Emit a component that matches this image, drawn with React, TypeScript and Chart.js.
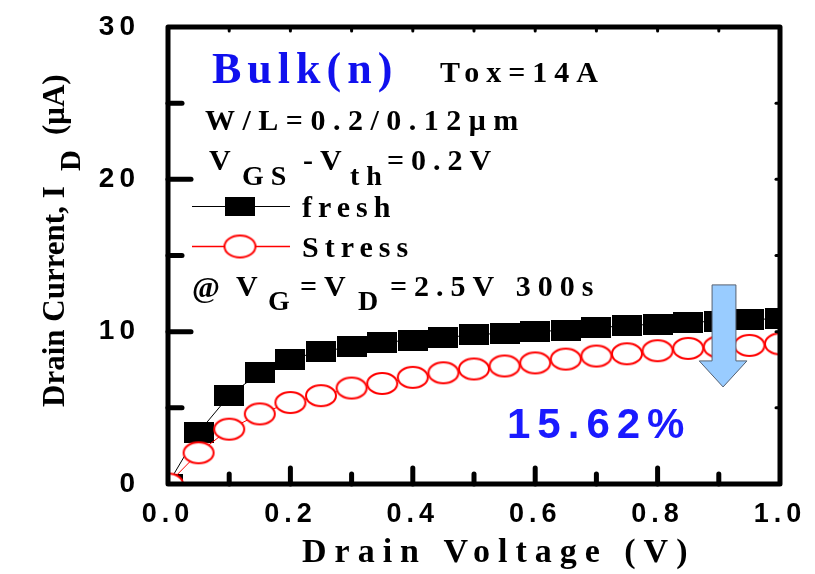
import React, { useEffect, useRef } from 'react';
import { Chart, registerables } from 'chart.js';

Chart.register(...registerables);

// ---- data ----
const voltages = [0, 0.05, 0.1, 0.15, 0.2, 0.25, 0.3, 0.35, 0.4, 0.45, 0.5, 0.55, 0.6, 0.65, 0.7, 0.75, 0.8, 0.85, 0.9, 0.95, 1.0];
const freshCurrent = [0, 3.4, 5.8, 7.3, 8.2, 8.7, 9.0, 9.3, 9.45, 9.6, 9.8, 9.9, 10.0, 10.1, 10.25, 10.4, 10.5, 10.6, 10.7, 10.8, 10.85];
const stressCurrent = [0, 2.05, 3.6, 4.6, 5.35, 5.8, 6.3, 6.6, 7.0, 7.3, 7.55, 7.75, 7.95, 8.2, 8.4, 8.55, 8.75, 8.9, 9.0, 9.1, 9.2];
const seriesNames = ['fresh', 'Stress'];
const xTickStep = 0.2;
const yTickStep = 10;
const xMinorTicks = [0.1, 0.2, 0.3, 0.4, 0.5, 0.6, 0.7, 0.8, 0.9];
const yMinorTicks = [5, 10, 15, 20, 25];
const degradationLabel = '15.62%';

const SERIF = '"Liberation Serif", "Times New Roman", serif';
const SANS = '"Liberation Sans", Arial, sans-serif';

function makeRect(w: number, h: number, color: string) {
  const c = document.createElement('canvas');
  c.width = w; c.height = h;
  const g = c.getContext('2d')!;
  g.fillStyle = color;
  g.fillRect(0, 0, w, h);
  return c;
}

function makeEllipse(w: number, h: number, color: string, lw: number) {
  const c = document.createElement('canvas');
  c.width = w; c.height = h;
  const g = c.getContext('2d')!;
  g.beginPath();
  g.ellipse(w / 2, h / 2, w / 2 - lw, h / 2 - lw, 0, 0, Math.PI * 2);
  g.fillStyle = '#ffffff';
  g.fill();
  g.lineWidth = lw;
  g.strokeStyle = color;
  g.stroke();
  return c;
}

function txt(ctx: CanvasRenderingContext2D, s: string, x: number, y: number, font: string, color: string, spacing: number) {
  ctx.save();
  ctx.font = font;
  ctx.fillStyle = color;
  (ctx as any).letterSpacing = spacing + 'px';
  ctx.textAlign = 'left';
  ctx.textBaseline = 'alphabetic';
  ctx.fillText(s, x, y);
  ctx.restore();
}

export default function App() {
  const ref = useRef<HTMLCanvasElement>(null);

  useEffect(() => {
    if (!ref.current) return;
    const squareImg = makeRect(30, 21, '#000000');
    const circleImg = makeEllipse(34, 25, '#ff0000', 2);
    const legendSquare = makeRect(30, 19, '#000000');
    const legendCircle = makeEllipse(35, 26, '#ff0000', 2);

    const spacingPlugin = {
      id: 'spacing',
      beforeDraw(chart: any) {
        chart.ctx.letterSpacing = '5px';
      },
      afterDraw(chart: any) {
        chart.ctx.letterSpacing = '0px';
      },
    };

    const framePlugin = {
      id: 'frame',
      afterDatasetsDraw(chart: any) {
        const ctx: CanvasRenderingContext2D = chart.ctx;
        const { left, right, top, bottom } = chart.chartArea;
        const xs = chart.scales.x;
        const ys = chart.scales.y;
        ctx.save();
        (ctx as any).letterSpacing = '0px';
        // arrow
        const ax = (v: number) => xs.getPixelForValue(v);
        const ay = (v: number) => ys.getPixelForValue(v);
        ctx.beginPath();
        ctx.moveTo(ax(0.889), ay(13.07));
        ctx.lineTo(ax(0.928), ay(13.07));
        ctx.lineTo(ax(0.928), ay(8.08));
        ctx.lineTo(ax(0.946), ay(8.08));
        ctx.lineTo(ax(0.907), ay(6.37));
        ctx.lineTo(ax(0.868), ay(8.08));
        ctx.lineTo(ax(0.889), ay(8.08));
        ctx.closePath();
        ctx.fillStyle = '#99ccff';
        ctx.fill();
        ctx.lineWidth = 1;
        ctx.strokeStyle = '#556070';
        ctx.stroke();

        // ticks
        ctx.strokeStyle = '#000';
        ctx.lineCap = 'round';
        ctx.lineWidth = 5;
        yMinorTicks.forEach((v) => {
          const y = ys.getPixelForValue(v);
          const major = v % yTickStep === 0;
          ctx.beginPath();
          ctx.moveTo(left, y);
          ctx.lineTo(left + (major ? 23 : 14), y);
          ctx.stroke();
        });
        xMinorTicks.forEach((v) => {
          const x = xs.getPixelForValue(v);
          const major = Math.round(v * 10) % 2 === 0;
          ctx.beginPath();
          ctx.moveTo(x, bottom);
          ctx.lineTo(x, bottom - (major ? 16 : 10));
          ctx.stroke();
        });
        ctx.lineWidth = 3;
        yMinorTicks.forEach((v) => {
          const y = ys.getPixelForValue(v);
          ctx.beginPath();
          ctx.moveTo(right, y);
          ctx.lineTo(right - 4, y);
          ctx.stroke();
        });
        xMinorTicks.forEach((v) => {
          const x = xs.getPixelForValue(v);
          ctx.beginPath();
          ctx.moveTo(x, top);
          ctx.lineTo(x, top + 4);
          ctx.stroke();
        });
        // frame
        ctx.lineCap = 'butt';
        ctx.lineJoin = 'round';
        ctx.lineWidth = 5;
        ctx.strokeRect(left, top, right - left, bottom - top);
        ctx.restore();
      },
      afterDraw(chart: any) {
        const ctx: CanvasRenderingContext2D = chart.ctx;
        const B = (s: number) => `bold ${s}px ${SERIF}`;
        // annotations
        txt(ctx, 'Bulk(n)', 212, 83, B(44), '#1010ee', 6);
        txt(ctx, 'Tox=14A', 440, 82, B(30), '#000', 7);
        txt(ctx, 'W/L=0.2/0.12\u03bcm', 205, 130, B(30), '#000', 7.5);
        txt(ctx, 'V', 209, 170, B(30), '#000', 7);
        txt(ctx, 'GS', 242, 185, B(28), '#000', 7);
        txt(ctx, '-V', 303, 170, B(30), '#000', 7);
        txt(ctx, 'th', 350, 185, B(28), '#000', 7);
        txt(ctx, '=0.2V', 387, 170, B(30), '#000', 7);
        // legend
        ctx.save();
        ctx.lineWidth = 1;
        ctx.strokeStyle = '#000';
        ctx.beginPath();
        ctx.moveTo(192, 206.5);
        ctx.lineTo(290, 206.5);
        ctx.stroke();
        ctx.drawImage(legendSquare, 240 - 15, 206.5 - 9.5);
        ctx.strokeStyle = '#ff0000';
        ctx.lineWidth = 1.5;
        ctx.beginPath();
        ctx.moveTo(192, 246.5);
        ctx.lineTo(290, 246.5);
        ctx.stroke();
        ctx.drawImage(legendCircle, 240 - 17.5, 246.5 - 13);
        ctx.restore();
        txt(ctx, seriesNames[0], 302, 217, B(30), '#000', 6);
        txt(ctx, seriesNames[1], 302, 257, B(30), '#000', 6);
        // stress condition
        txt(ctx, '@', 192, 297, B(30), '#000', 7);
        txt(ctx, 'V', 236, 296, B(30), '#000', 7);
        txt(ctx, 'G', 268, 310, B(28), '#000', 7);
        txt(ctx, '=V', 300, 296, B(30), '#000', 7);
        txt(ctx, 'D', 358, 310, B(28), '#000', 7);
        txt(ctx, '=2.5V 300s', 390, 296, B(30), '#000', 7);
        // percentage
        txt(ctx, degradationLabel, 507, 438, `bold 42px ${SANS}`, '#1a1aff', 7);
        // x title
        ctx.save();
        ctx.font = B(34);
        (ctx as any).letterSpacing = '8px';
        ctx.fillStyle = '#000';
        ctx.textAlign = 'left';
        ctx.textBaseline = 'alphabetic';
        ctx.fillText('Drain Voltage (V)', 302, 562);
        ctx.restore();
        // y title (rotated)
        ctx.save();
        ctx.fillStyle = '#000';
        ctx.textAlign = 'left';
        ctx.textBaseline = 'alphabetic';
        (ctx as any).letterSpacing = '0px';
        ctx.translate(64, 407);
        ctx.rotate(-Math.PI / 2);
        ctx.font = B(31);
        ctx.fillText('Drain Current, I', 0, 0);
        ctx.font = B(29);
        ctx.fillText('D', 236, 16);
        ctx.font = B(31);
        ctx.fillText('(\u03bcA)', 272, 0);
        ctx.restore();
      },
    };

    const chart = new Chart(ref.current, {
      type: 'line',
      data: {
        labels: voltages,
        datasets: [
          {
            label: seriesNames[0],
            data: voltages.map((v, i) => ({ x: v, y: freshCurrent[i] })),
            borderColor: '#000000',
            backgroundColor: '#000000',
            borderWidth: 1,
            pointStyle: squareImg as any,
            pointRadius: 15,
            order: 2,
          },
          {
            label: seriesNames[1],
            data: voltages.map((v, i) => ({ x: v, y: stressCurrent[i] })),
            borderColor: '#ff0000',
            backgroundColor: '#ffffff',
            borderWidth: 1,
            pointStyle: circleImg as any,
            pointRadius: 15,
            order: 1,
          },
        ],
      },
      options: {
        animation: false,
        responsive: false,
        devicePixelRatio: 1,
        layout: { padding: { left: 0, right: 35, top: 27, bottom: 0 } },
        plugins: {
          legend: { display: false },
          tooltip: { enabled: false },
        },
        scales: {
          x: {
            type: 'linear',
            min: 0,
            max: 1,
            grid: { display: false, drawTicks: false },
            border: { display: false },
            ticks: {
              stepSize: xTickStep,
              autoSkip: false,
              maxRotation: 0,
              padding: 14,
              color: '#000',
              font: { family: SANS, size: 27, weight: 'bold' },
              callback: (v: any) => Number(v).toFixed(1),
            },
            afterFit: (s: any) => {
              s.height = 90;
              s.paddingLeft = 0; s.paddingRight = 0; s.paddingTop = 0; s.paddingBottom = 0;
            },
          },
          y: {
            min: 0,
            max: 30,
            grid: { display: false, drawTicks: false },
            border: { display: false },
            ticks: {
              stepSize: yTickStep,
              autoSkip: false,
              padding: 28,
              color: '#000',
              font: { family: SANS, size: 28, weight: 'bold' },
            },
            afterFit: (s: any) => {
              s.width = 168;
              s.paddingLeft = 0; s.paddingRight = 0; s.paddingTop = 0; s.paddingBottom = 0;
            },
          },
        },
      },
      plugins: [spacingPlugin, framePlugin],
    } as any);
    return () => chart.destroy();
  }, []);

  return (
    <div style={{ position: 'absolute', left: 0, top: 0, width: 815, height: 574, background: '#fff' }}>
      <canvas ref={ref} width={815} height={574} style={{ width: 815, height: 574 }} />
    </div>
  );
}
